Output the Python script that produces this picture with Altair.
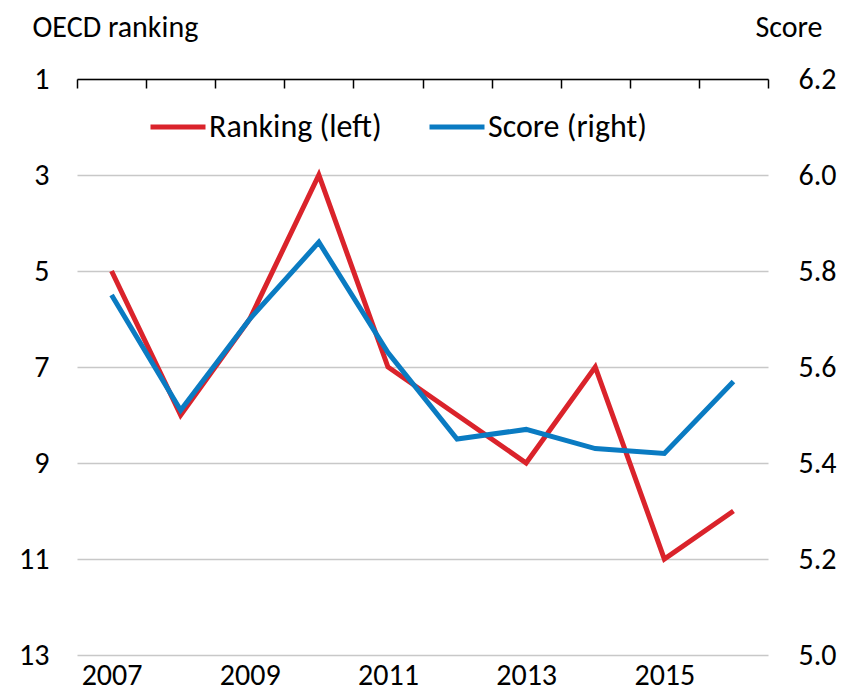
import altair as alt
import pandas as pd

years = [2007, 2008, 2009, 2010, 2011, 2012, 2013, 2014, 2015, 2016]
ranking = [5, 8, 6, 3, 7, 8, 9, 7, 11, 10]
score = [5.75, 5.51, 5.70, 5.86, 5.63, 5.45, 5.47, 5.43, 5.42, 5.57]
series_names = ["Ranking (left)", "Score (right)"]
series_colors = ["#da232b", "#0a7bc2"]
rank_ticks = [1, 3, 5, 7, 9, 11, 13]
score_ticks = [5.0, 5.2, 5.4, 5.6, 5.8, 6.0, 6.2]
year_labels = [2007, 2009, 2011, 2013, 2015]
year_bounds = [y - 0.5 for y in years] + [years[-1] + 0.5]

FONT = "Carlito, Calibri, Lato, sans-serif"
FS = 30
W, H = 691, 576

df = pd.DataFrame({"year": years, "ranking": ranking, "score": score})
df["s_rank"] = series_names[0]
df["s_score"] = series_names[1]

xscale = alt.Scale(domain=[year_bounds[0], year_bounds[-1]], nice=False, zero=False)
color_scale = alt.Scale(domain=series_names, range=series_colors)

legend = alt.Legend(
    title=None, orient="none", legendX=71, legendY=18, direction="horizontal",
    symbolType="stroke", symbolSize=3025, symbolStrokeWidth=5,
    labelFont=FONT, labelFontSize=32, labelColor="#000000", labelOffset=1,
    columnPadding=37, labelLimit=400,
)

rank_line = alt.Chart(df).mark_line(strokeWidth=5).encode(
    x=alt.X("year:Q", scale=xscale,
            axis=alt.Axis(orient="bottom", offset=-H, values=year_bounds, labels=False,
                          title=None, grid=False, domain=True, domainColor="#000000",
                          domainWidth=1.5, ticks=True, tickColor="#000000", tickWidth=1.5,
                          tickSize=9, zindex=2)),
    y=alt.Y("ranking:Q", scale=alt.Scale(domain=[1, 13], reverse=True, nice=False, zero=False),
            axis=alt.Axis(orient="left", values=rank_ticks, format="d", grid=True,
                          gridColor="#c8c8c8", gridWidth=1.5, domain=False, ticks=False,
                          labelFont=FONT, labelFontSize=FS, labelColor="#000000",
                          labelPadding=28,
                          title="OECD ranking", titleAngle=0, titleAlign="left",
                          titleBaseline="middle", titleX=-45, titleY=-52,
                          titleFont=FONT, titleFontSize=FS, titleFontWeight="normal",
                          titleColor="#000000")),
    color=alt.Color("s_rank:N", scale=color_scale, legend=legend),
)

score_line = alt.Chart(df).mark_line(strokeWidth=5).encode(
    x=alt.X("year:Q", scale=xscale,
            axis=alt.Axis(orient="bottom", values=year_labels, format="d", title=None,
                          grid=False, domain=False, ticks=False, labelFont=FONT,
                          labelFontSize=FS, labelColor="#000000", labelPadding=29,
                          labelBaseline="alphabetic")),
    y=alt.Y("score:Q", scale=alt.Scale(domain=[5.0, 6.2], nice=False, zero=False),
            axis=alt.Axis(orient="right", values=score_ticks, format=".1f", grid=False,
                          domain=False, ticks=False, labelFont=FONT, labelFontSize=FS,
                          labelColor="#000000", labelPadding=30,
                          title="Score", titleAngle=0, titleAlign="right",
                          titleBaseline="middle", titleX=54, titleY=-52,
                          titleFont=FONT, titleFontSize=FS, titleFontWeight="normal",
                          titleColor="#000000")),
    color=alt.Color("s_score:N", scale=color_scale, legend=legend),
)

chart = alt.layer(rank_line, score_line).resolve_scale(
    y="independent"
).resolve_axis(x="independent").properties(
    width=W, height=H,
    autosize=alt.AutoSizeParams(type="none"),
    padding={"left": 69, "top": 71, "right": 72, "bottom": 37},
).configure_view(stroke=None)

chart.save("out.html", embed_options={"renderer": "svg", "actions": False})
